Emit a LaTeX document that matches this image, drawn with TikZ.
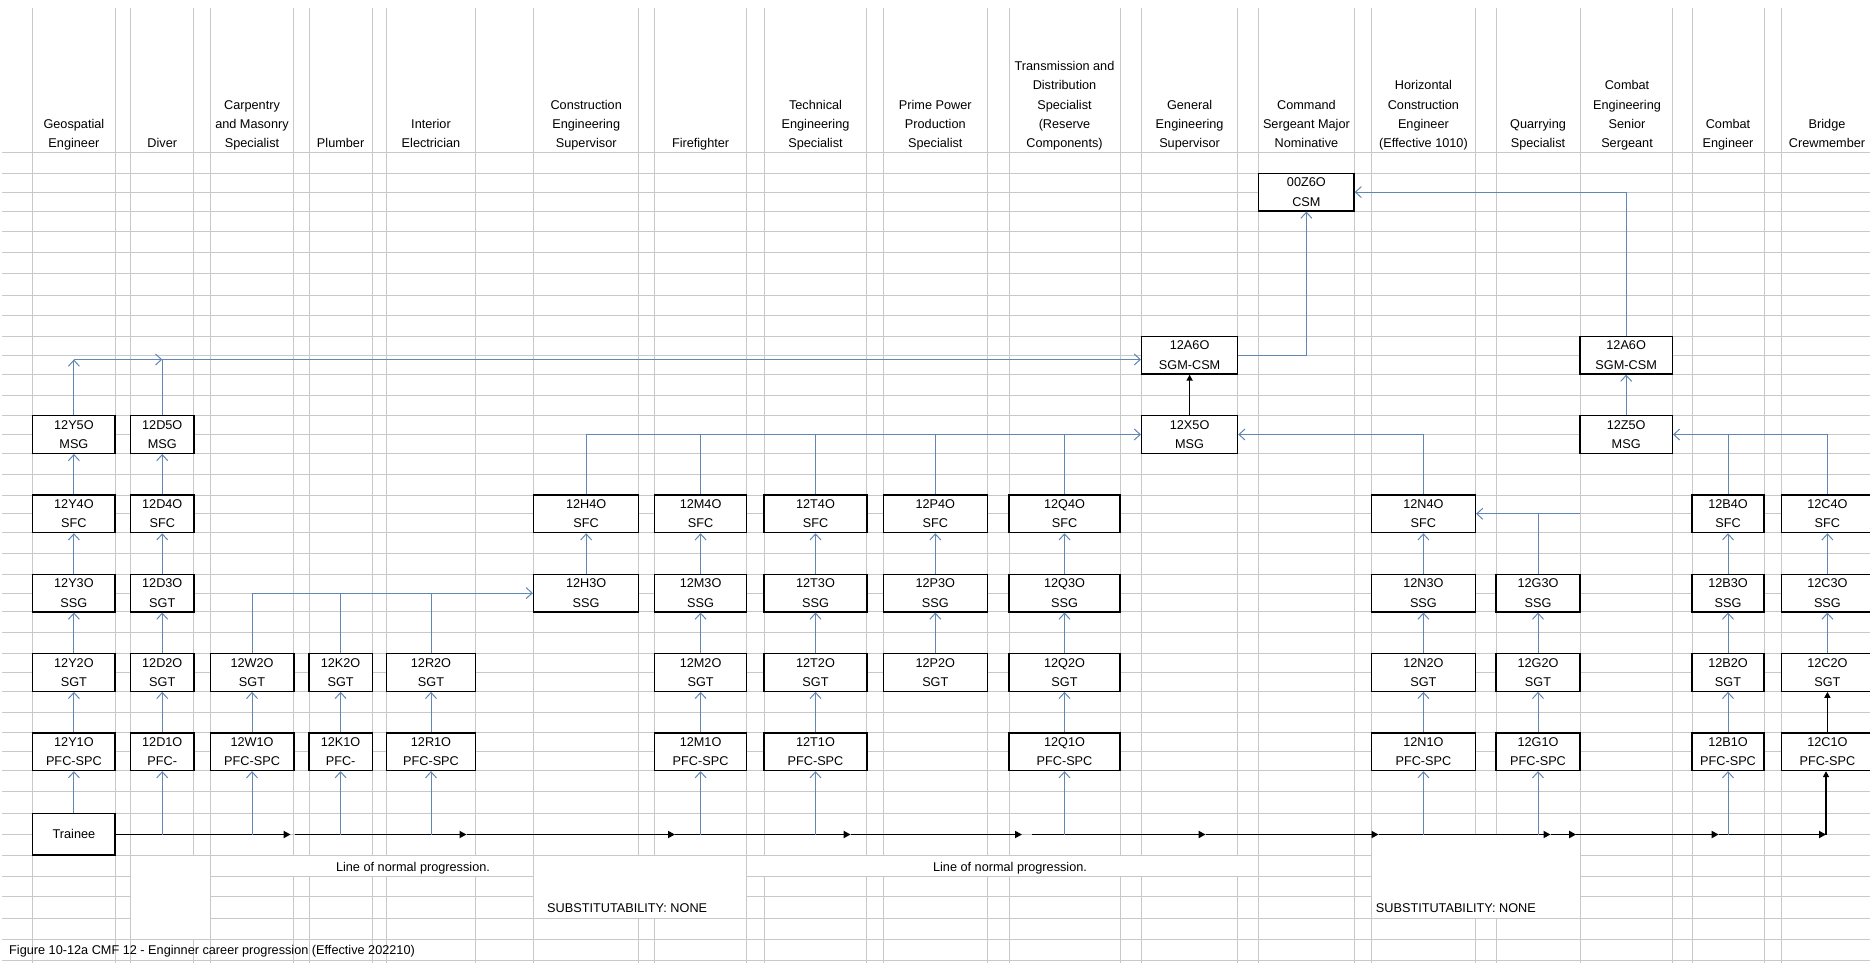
\documentclass[tikz,border=0pt]{standalone}
\usepackage{fontspec}
\setmainfont{Liberation Sans}
\usetikzlibrary{arrows.meta}
\definecolor{gridc}{RGB}{200,200,200}
\definecolor{conn}{RGB}{96,135,180}
\newcommand\txtfont{\fontsize{12.7}{19.3}\selectfont}
\newcommand\hdrfont{\fontsize{12.7}{19.4}\selectfont}
\newcommand\rk[6]{\node[rank,minimum width={#3-#2}] (#1) at ({(#2+#3)/2},{#4+18.8}) {#5\\#6};}
\tikzset{
  gridline/.style={draw=gridc, line width=0.9pt},
  rank/.style={draw=black, line width=1.3pt, fill=white, minimum height=37.6pt, inner sep=0pt, align=center, font=\txtfont},
  hdr/.style={anchor=south, align=center, inner sep=0pt, font=\hdrfont},
  lbl/.style={inner sep=0pt, font=\txtfont},
  bl/.style={draw=conn, line width=1.0pt},
  blA/.style={bl, -{Straight Barb[length=6pt,width=11pt]}},
  prog/.style={draw=black, line width=1.8pt, -{Triangle[length=7pt,width=7pt]}},
  blk/.style={draw=black, line width=1.5pt, -{Triangle[length=6pt,width=6pt]}}
}
\begin{document}
\begin{tikzpicture}[x=1pt,y=-1pt]
\useasboundingbox (0,0) rectangle (1870,963);
\fill[white] (0,0) rectangle (1870,963);
% grid
\foreach \x in {32.7,115.1,130.6,193.9,210.2,293.9,309,372.2,386.5,475.5,533.5,638.8,654.7,746.5,764.1,866.9,883.3,987.3,1009,1120,1141.6,1237.6,1258.7,1354,1371.4,1475.4,1496,1580,1672.3,1692,1764,1781.8}
  \draw[gridline] (\x,8) -- (\x,963);
\foreach \y in {152.7,173.3,192.1,211,231.7,252.7,273.3,295,315.5,336.4,355.2,374,395,415.7,434.5,453.3,474.2,495,513.8,532.6,553.5,574.3,593.1,611.9,632.8,653.6,672.4,691.2,712,732.9,751.7,770.5,791.4,813.3,834,855,876.7,896.7,918.3,939.5,960}
  \draw[gridline] (2,\y) -- (1870,\y);
% merged cells
\fill[white] (131.1,855.5) rectangle (209.7,939);
\fill[white] (210.7,855.5) rectangle (533,876.2);
\fill[white] (534,855.5) rectangle (746,917.8);
\fill[white] (747,855.5) rectangle (1258.2,876.2);
\fill[white] (1371.9,834.5) rectangle (1579.5,917.8);

% headers
\node[hdr] (hY) at (73.9,154) {Geospatial\\Engineer\strut};
\node[hdr] (hD) at (162.3,154) {Diver\strut};
\node[hdr] (hW) at (252,154) {Carpentry\\and Masonry\\Specialist\strut};
\node[hdr] (hK) at (340.6,154) {Plumber\strut};
\node[hdr] (hR) at (431,154) {Interior\\Electrician\strut};
\node[hdr] (hH) at (586.2,154) {Construction\\Engineering\\Supervisor\strut};
\node[hdr] (hM) at (700.6,154) {Firefighter\strut};
\node[hdr] (hT) at (815.5,154) {Technical\\Engineering\\Specialist\strut};
\node[hdr] (hP) at (935.3,154) {Prime Power\\Production\\Specialist\strut};
\node[hdr] (hQ) at (1064.5,154) {Transmission and\\Distribution\\Specialist\\(Reserve\\Components)\strut};
\node[hdr] (hX) at (1189.6,154) {General\\Engineering\\Supervisor\strut};
\node[hdr] (hS) at (1306.4,154) {Command\\Sergeant Major\\Nominative\strut};
\node[hdr] (hN) at (1423.4,154) {Horizontal\\Construction\\Engineer\\(Effective 1010)\strut};
\node[hdr] (hG) at (1538,154) {Quarrying\\Specialist\strut};
\node[hdr] (hZ) at (1627,154) {Combat\\Engineering\\Senior\\Sergeant\strut};
\node[hdr] (hB) at (1728,154) {Combat\\Engineer\strut};
\node[hdr] (hC) at (1827,154) {Bridge\\Crewmember\strut};

% boxes
\rk{Y1}{32.7}{115.1}{732.9}{12Y1O}{PFC-SPC}
\rk{Y2}{32.7}{115.1}{653.6}{12Y2O}{SGT}
\rk{Y3}{32.7}{115.1}{574.3}{12Y3O}{SSG}
\rk{Y4}{32.7}{115.1}{495}{12Y4O}{SFC}
\rk{Y5}{32.7}{115.1}{415.7}{12Y5O}{MSG}
\rk{D1}{130.6}{193.9}{732.9}{12D1O}{PFC-}
\rk{D2}{130.6}{193.9}{653.6}{12D2O}{SGT}
\rk{D3}{130.6}{193.9}{574.3}{12D3O}{SGT}
\rk{D4}{130.6}{193.9}{495}{12D4O}{SFC}
\rk{D5}{130.6}{193.9}{415.7}{12D5O}{MSG}
\rk{W1}{210.2}{293.9}{732.9}{12W1O}{PFC-SPC}
\rk{W2}{210.2}{293.9}{653.6}{12W2O}{SGT}
\rk{K1}{309}{372.2}{732.9}{12K1O}{PFC-}
\rk{K2}{309}{372.2}{653.6}{12K2O}{SGT}
\rk{R1}{386.5}{475.5}{732.9}{12R1O}{PFC-SPC}
\rk{R2}{386.5}{475.5}{653.6}{12R2O}{SGT}
\rk{H3}{533.5}{638.8}{574.3}{12H3O}{SSG}
\rk{H4}{533.5}{638.8}{495}{12H4O}{SFC}
\rk{M1}{654.7}{746.5}{732.9}{12M1O}{PFC-SPC}
\rk{M2}{654.7}{746.5}{653.6}{12M2O}{SGT}
\rk{M3}{654.7}{746.5}{574.3}{12M3O}{SSG}
\rk{M4}{654.7}{746.5}{495}{12M4O}{SFC}
\rk{T1}{764.1}{866.9}{732.9}{12T1O}{PFC-SPC}
\rk{T2}{764.1}{866.9}{653.6}{12T2O}{SGT}
\rk{T3}{764.1}{866.9}{574.3}{12T3O}{SSG}
\rk{T4}{764.1}{866.9}{495}{12T4O}{SFC}
\rk{P2}{883.3}{987.3}{653.6}{12P2O}{SGT}
\rk{P3}{883.3}{987.3}{574.3}{12P3O}{SSG}
\rk{P4}{883.3}{987.3}{495}{12P4O}{SFC}
\rk{Q1}{1009}{1120}{732.9}{12Q1O}{PFC-SPC}
\rk{Q2}{1009}{1120}{653.6}{12Q2O}{SGT}
\rk{Q3}{1009}{1120}{574.3}{12Q3O}{SSG}
\rk{Q4}{1009}{1120}{495}{12Q4O}{SFC}
\rk{X5}{1141.6}{1237.6}{415.7}{12X5O}{MSG}
\rk{X6}{1141.6}{1237.6}{336.4}{12A6O}{SGM-CSM}
\rk{Z0}{1258.7}{1354}{173.3}{00Z6O}{CSM}
\rk{N1}{1371.4}{1475.4}{732.9}{12N1O}{PFC-SPC}
\rk{N2}{1371.4}{1475.4}{653.6}{12N2O}{SGT}
\rk{N3}{1371.4}{1475.4}{574.3}{12N3O}{SSG}
\rk{N4}{1371.4}{1475.4}{495}{12N4O}{SFC}
\rk{G1}{1496}{1580}{732.9}{12G1O}{PFC-SPC}
\rk{G2}{1496}{1580}{653.6}{12G2O}{SGT}
\rk{G3}{1496}{1580}{574.3}{12G3O}{SSG}
\rk{Z5}{1580}{1672.3}{415.7}{12Z5O}{MSG}
\rk{Z6}{1580}{1672.3}{336.4}{12A6O}{SGM-CSM}
\rk{B1}{1692}{1764}{732.9}{12B1O}{PFC-SPC}
\rk{B2}{1692}{1764}{653.6}{12B2O}{SGT}
\rk{B3}{1692}{1764}{574.3}{12B3O}{SSG}
\rk{B4}{1692}{1764}{495}{12B4O}{SFC}
\rk{C1}{1781.8}{1873}{732.9}{12C1O}{PFC-SPC}
\rk{C2}{1781.8}{1873}{653.6}{12C2O}{SGT}
\rk{C3}{1781.8}{1873}{574.3}{12C3O}{SSG}
\rk{C4}{1781.8}{1873}{495}{12C4O}{SFC}
\node[rank, minimum width=82.4pt, minimum height=41.7pt] (Tr) at (73.9,834.2) {Trainee};

% progression line
\coordinate (pl) at (0,834.5);
\coordinate (a1) at (290.6,834.5);
\coordinate (b1) at (294.6,834.5);
\coordinate (a2) at (466.5,834.5);
\coordinate (a3) at (675,834.5);
\coordinate (a4) at (850.6,834.5);
\coordinate (a5) at (1022,834.5);
\coordinate (b5) at (1032,834.5);
\coordinate (a6) at (1205.6,834.5);
\coordinate (a7) at (1378.5,834.5);
\coordinate (a8) at (1550.5,834.5);
\coordinate (a9) at (1576.2,834.5);
\coordinate (a10) at (1718.6,834.5);
\coordinate (a11) at (1826,834.5);
\draw[prog] (Tr.east |- pl) -- (a1);
\draw[prog] (b1) -- (a2);
\draw[prog] (a2) -- (a3);
\draw[prog] (a3) -- (a4);
\draw[prog] (a4) -- (a5);
\draw[prog] (b5) -- (a6);
\draw[prog] (a6) -- (a7);
\draw[prog] (a7) -- (a8);
\draw[prog] (a8) -- (a9);
\draw[prog] (a9) -- (a10);
\draw[prog] (a10) -- (a11);
\draw[blk] (a11) -- (a11 |- C1.south);

% entry arrows
\draw[blA] (Tr.north) -- (Y1.south);
\foreach \n in {D1,W1,K1,R1,M1,T1,Q1,N1,G1,B1}
  \draw[blA] (\n.south |- pl) -- (\n.south);

% rank arrows
\foreach \a/\b in {Y1/Y2,Y2/Y3,Y3/Y4,Y4/Y5,D1/D2,D2/D3,D3/D4,D4/D5,W1/W2,K1/K2,R1/R2,H3/H4,M1/M2,M2/M3,M3/M4,T1/T2,T2/T3,T3/T4,P2/P3,P3/P4,Q1/Q2,Q2/Q3,Q3/Q4,N1/N2,N2/N3,N3/N4,G1/G2,G2/G3,B1/B2,B2/B3,B3/B4,C2/C3,C3/C4,Z5/Z6}
  \draw[blA] (\a.north) -- (\b.south);
\draw[blk] (C1.north) -- (C2.south);
\draw[blk] (X5.north) -- (X6.south);

% cross-over lines
\coordinate (jY) at (0,359.5);
\draw[blA] (Y5.north) -- (Y5.north |- jY);
\draw[blA] (Y5.north |- jY) -- (D5.north |- jY);
\draw[bl] (D5.north) -- (D5.north |- jY);
\draw[blA] (D5.north |- jY) -- (X6.west |- jY);
\draw[blA] (W2.north) |- (H3.west);
\draw[bl] (K2.north) -- (K2.north |- H3.west);
\draw[bl] (R2.north) -- (R2.north |- H3.west);
\draw[blA] (H4.north) |- (X5.west);
\foreach \n in {M4,T4,P4,Q4}
  \draw[bl] (\n.north) -- (\n.north |- X5.west);
\draw[blA] (N4.north) |- (X5.east);
\coordinate (gR) at (1580,0);
\draw[blA] (gR |- N4.east) -- (N4.east);
\draw[bl] (G3.north) -- (G3.north |- N4.east);
\draw[blA] (C4.north) |- (Z5.east);
\draw[bl] (B4.north) -- (B4.north |- Z5.east);
\draw[blA] (X6.east) -| (Z0.south);
\draw[blA] (Z6.north) |- (Z0.east);

% labels
\node[lbl, anchor=base] (lnp1) at (413,871) {Line of normal progression.};
\node[lbl, anchor=base] (lnp2) at (1010,871) {Line of normal progression.};
\node[lbl, anchor=base west] (sub1) at (547,912.8) {SUBSTITUTABILITY: NONE};
\node[lbl, anchor=base west] (sub2) at (1375.7,912.8) {SUBSTITUTABILITY: NONE};
\node[lbl, anchor=base west] (cap) at (9,954.5) {Figure 10-12a CMF 12 - Enginner career progression (Effective 202210)};
\end{tikzpicture}
\end{document}
